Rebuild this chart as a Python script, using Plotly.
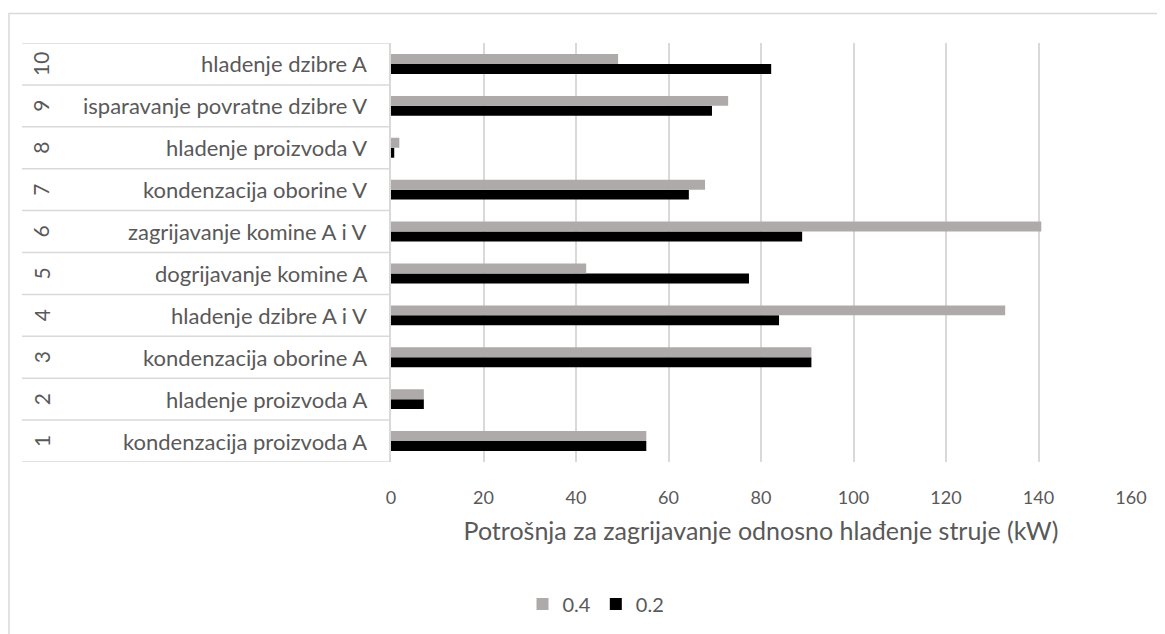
import plotly.graph_objects as go

# ---- data ----
numbers = ["1", "2", "3", "4", "5", "6", "7", "8", "9", "10"]
labels = [
    "kondenzacija proizvoda A",
    "hladenje proizvoda A",
    "kondenzacija oborine A",
    "hladenje dzibre A i V",
    "dogrijavanje komine A",
    "zagrijavanje komine A i V",
    "kondenzacija oborine V",
    "hladenje proizvoda V",
    "isparavanje povratne dzibre V",
    "hladenje dzibre A",
]
series_04 = [55.2, 7.1, 90.9, 132.8, 42.2, 140.6, 67.9, 1.8, 72.9, 49.1]
series_02 = [55.2, 7.1, 90.9, 83.9, 77.4, 88.9, 64.4, 0.7, 69.4, 82.2]
x_ticks = [0, 20, 40, 60, 80, 100, 120, 140, 160]
x_title = "Potrošnja za zagrijavanje odnosno hlađenje struje (kW)"

FONT = "Lato"
TXT = "#595959"
GRID = "#d9d9d9"

OFF = 8  # page body margin
W, H = 1165 - OFF, 634 - OFF
ML, MT = 391 - OFF, 43 - OFF
PW = 1131 - 391
PH = 463 - 43
MR = W - ML - PW
MB = H - MT - PH


def px_x(p):
    return (p - OFF - ML) / PW


def px_y(p):
    return (MT + PH - (p - OFF)) / PH


fig = go.Figure()
fig.add_trace(go.Bar(y=numbers, x=series_02, orientation="h", name="0.2",
                     marker=dict(color="#000000", line=dict(width=0))))
fig.add_trace(go.Bar(y=numbers, x=series_04, orientation="h", name="0.4",
                     marker=dict(color="#AEAAAA", line=dict(width=0))))

annotations = []
shapes = []
for i, (n, lab) in enumerate(zip(numbers, labels)):
    annotations.append(dict(x=px_x(41), xref="paper", y=i, yref="y", text=n,
                            showarrow=False, textangle=-90,
                            font=dict(family=FONT, size=21, color=TXT),
                            xanchor="center", yanchor="middle"))
    annotations.append(dict(x=px_x(369), xref="paper", y=i, yref="y", text=lab,
                            showarrow=False,
                            font=dict(family=FONT, size=22, color=TXT),
                            xanchor="right", yanchor="middle"))
for i in range(len(numbers) + 1):
    shapes.append(dict(type="line", xref="paper", yref="y",
                       x0=px_x(22), x1=0, y0=i - 0.5, y1=i - 0.5,
                       line=dict(color=GRID, width=1.5)))

# chart border
shapes.append(dict(type="rect", xref="paper", yref="paper",
                   x0=px_x(9), x1=px_x(1190), y0=px_y(13.5), y1=px_y(660),
                   line=dict(color=GRID, width=1.5), layer="below"))

fig.update_layout(
    width=W, height=H,
    margin=dict(l=ML, r=MR, t=MT, b=MB),
    paper_bgcolor="white", plot_bgcolor="white",
    barmode="group", bargap=0.524, bargroupgap=0,
    font=dict(family=FONT, color=TXT),
    showlegend=True,
    legend=dict(orientation="h", traceorder="reversed",
                x=px_x(596), xanchor="center", y=px_y(604), yanchor="middle",
                font=dict(family=FONT, size=20, color=TXT),
                itemwidth=30),
    xaxis=dict(range=[0, 160], tickvals=x_ticks, showgrid=True,
               gridcolor=GRID, gridwidth=1.5, zeroline=False, showline=False,
               ticks="outside", ticklen=19, tickcolor="rgba(0,0,0,0)",
               tickfont=dict(family=FONT, size=18, color=TXT),
               title=dict(text=x_title, standoff=15,
                          font=dict(family=FONT, size=25, color=TXT))),
    yaxis=dict(type="category", range=[-0.5, 9.5], showticklabels=False,
               showgrid=False, zeroline=False, showline=True,
               linecolor=GRID, linewidth=1.5, ticks=""),
    annotations=annotations,
    shapes=shapes,
)

fig.write_html("out.html")
